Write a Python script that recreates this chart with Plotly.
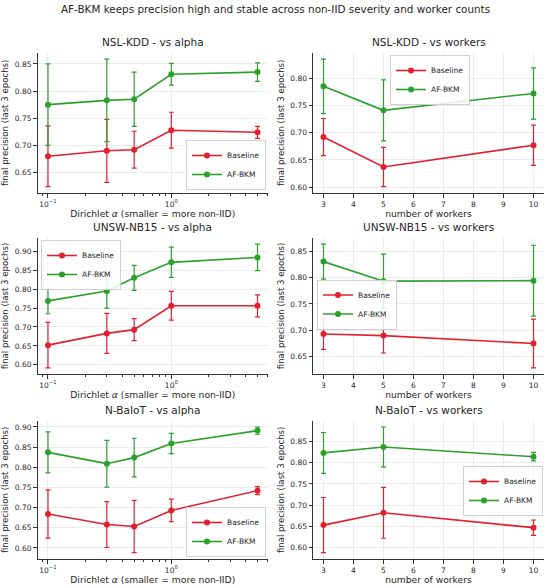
import plotly.graph_objects as go
from plotly.subplots import make_subplots

# Data
ALPHAS = [0.1, 0.3, 0.5, 1.0, 5.0]
WORKERS = [3, 5, 10]

nsl_alpha_base = [0.680, 0.690, 0.692, 0.728, 0.724]
nsl_alpha_base_err = [0.056, 0.058, 0.034, 0.033, 0.011]
nsl_alpha_af = [0.775, 0.783, 0.785, 0.831, 0.835]
nsl_alpha_af_err = [0.075, 0.076, 0.050, 0.020, 0.017]

nsl_work_base = [0.692, 0.637, 0.677]
nsl_work_base_err = [0.034, 0.036, 0.037]
nsl_work_af = [0.785, 0.741, 0.772]
nsl_work_af_err = [0.050, 0.056, 0.047]

unsw_alpha_base = [0.652, 0.683, 0.693, 0.756, 0.756]
unsw_alpha_base_err = [0.060, 0.053, 0.029, 0.038, 0.029]
unsw_alpha_af = [0.769, 0.795, 0.830, 0.871, 0.884]
unsw_alpha_af_err = [0.034, 0.045, 0.033, 0.040, 0.035]

unsw_work_base = [0.693, 0.690, 0.675]
unsw_work_base_err = [0.029, 0.033, 0.046]
unsw_work_af = [0.830, 0.793, 0.794]
unsw_work_af_err = [0.033, 0.051, 0.067]

nb_alpha_base = [0.684, 0.658, 0.653, 0.693, 0.742]
nb_alpha_base_err = [0.060, 0.057, 0.065, 0.028, 0.010]
nb_alpha_af = [0.837, 0.809, 0.824, 0.859, 0.891]
nb_alpha_af_err = [0.051, 0.058, 0.048, 0.025, 0.009]

nb_work_base = [0.653, 0.682, 0.647]
nb_work_base_err = [0.065, 0.060, 0.018]
nb_work_af = [0.823, 0.837, 0.814]
nb_work_af_err = [0.048, 0.047, 0.010]

TITLES = ["NSL-KDD - vs alpha", "NSL-KDD - vs workers",
          "UNSW-NB15 - vs alpha", "UNSW-NB15 - vs workers",
          "N-BaIoT - vs alpha", "N-BaIoT - vs workers"]
SUPTITLE = "AF-BKM keeps precision high and stable across non-IID severity and worker counts"
ALPHA_LABEL = "Dirichlet <i>α</i> (smaller = more non-IID)"
WORKER_LABEL = "number of workers"
Y_LABEL = "final precision (last 3 epochs)"

RED = "#e0202f"
GREEN = "#2ca02c"
TXT = "#262626"
FONT = "DejaVu Sans"
W, H = 550, 588

panels = [
    (ALPHAS, nsl_alpha_base, nsl_alpha_base_err, nsl_alpha_af, nsl_alpha_af_err),
    (WORKERS, nsl_work_base, nsl_work_base_err, nsl_work_af, nsl_work_af_err),
    (ALPHAS, unsw_alpha_base, unsw_alpha_base_err, unsw_alpha_af, unsw_alpha_af_err),
    (WORKERS, unsw_work_base, unsw_work_base_err, unsw_work_af, unsw_work_af_err),
    (ALPHAS, nb_alpha_base, nb_alpha_base_err, nb_alpha_af, nb_alpha_af_err),
    (WORKERS, nb_work_base, nb_work_base_err, nb_work_af, nb_work_af_err),
]

# axes boxes in pixels (left, right, top, bottom)
col_px = [(37.5, 268.0), (313.0, 544.0)]
row_px = [(52.7, 193.0), (238.0, 374.0), (420.7, 559.0)]

# legend placement per panel (x, y, xanchor, yanchor) in paper coords
legend_pos = [
    (266 / W, 1 - 190 / H, "right", "bottom"),
    (430 / W, 1 - 55 / H, "center", "top"),
    (41 / W, 1 - 240 / H, "left", "top"),
    (317 / W, 1 - 304.5 / H, "left", "middle"),
    (266 / W, 1 - 557 / H, "right", "bottom"),
    (543 / W, 1 - 491 / H, "right", "middle"),
]

fig = make_subplots(rows=3, cols=2)

axis_common = dict(
    showline=True, linecolor="#333333", linewidth=1,
    ticks="outside", ticklen=3.5, tickcolor="#333333", tickwidth=0.8,
    showgrid=True, gridcolor="#ebebeb", gridwidth=0.8,
    zeroline=False, mirror=False,
    tickfont=dict(family=FONT, size=7.5, color=TXT),
)

for i, (xs, yb, eb, ya, ea) in enumerate(panels):
    r, c = i // 2 + 1, i % 2 + 1
    leg = "legend" if i == 0 else f"legend{i + 1}"
    for name, ys, es, col in [("Baseline", yb, eb, RED), ("AF-BKM", ya, ea, GREEN)]:
        fig.add_trace(go.Scatter(
            x=xs, y=ys, name=name, mode="lines+markers",
            line=dict(color=col, width=1.6),
            marker=dict(color=col, size=6),
            error_y=dict(type="data", array=es, color=col, thickness=1.2, width=2.5),
            legend=leg,
        ), row=r, col=c)

    lo = min(y - e for y, e in zip(yb + ya, eb + ea))
    hi = max(y + e for y, e in zip(yb + ya, eb + ea))
    pad = 0.05 * (hi - lo)

    x0, x1 = col_px[c - 1]
    t0, b0 = row_px[r - 1]
    xdom = [x0 / W, x1 / W]
    ydom = [1 - b0 / H, 1 - t0 / H]

    xtitle_font = dict(family=FONT, size=9.2, color=TXT)
    if xs is ALPHAS:
        xkw = dict(type="log", range=[-1.085, 0.784],
                   tickvals=[0.1, 1], ticktext=["10<sup>−1</sup>", "10<sup>0</sup>"],
                   minor=dict(ticks="outside", ticklen=2, tickcolor="#333333",
                              tickvals=[0.09, 0.2, 0.3, 0.4, 0.5, 0.6, 0.7, 0.8, 0.9,
                                        2, 3, 4, 5, 6],
                              showgrid=False),
                   title=dict(text=ALPHA_LABEL, font=xtitle_font, standoff=2))
    else:
        xkw = dict(range=[2.65, 10.35], dtick=1, tick0=3,
                   title=dict(text=WORKER_LABEL, font=xtitle_font, standoff=2))
    fig.update_xaxes(domain=xdom, **axis_common, **xkw, row=r, col=c)
    fig.update_yaxes(domain=ydom, range=[lo - pad, hi + pad], dtick=0.05, tickformat=".2f",
                     title=dict(text=Y_LABEL, font=dict(family=FONT, size=8.6, color=TXT),
                                standoff=4),
                     **axis_common, row=r, col=c)

    fig.add_annotation(text=TITLES[i], xref="paper", yref="paper",
                       x=(x0 + x1) / 2 / W, y=1 - (t0 - 3) / H,
                       xanchor="center", yanchor="bottom", showarrow=False,
                       font=dict(family=FONT, size=10.5, color=TXT))

    lx, ly, xa, ya_ = legend_pos[i]
    fig.update_layout({leg: dict(x=lx, y=ly, xanchor=xa, yanchor=ya_,
                                 bgcolor="rgba(255,255,255,0.85)", bordercolor="#d0d0d0",
                                 borderwidth=1, font=dict(family=FONT, size=7.5, color=TXT),
                                 tracegroupgap=0, itemwidth=30)})

fig.add_annotation(text=SUPTITLE, xref="paper", yref="paper", x=0.5, y=1 - 9 / H,
                   xanchor="center", yanchor="middle", showarrow=False,
                   font=dict(family=FONT, size=10.4, color=TXT))

fig.update_layout(
    width=W, height=H,
    margin=dict(l=0, r=0, t=0, b=0),
    paper_bgcolor="white", plot_bgcolor="white",
    showlegend=True,
    font=dict(family=FONT),
)

# page body has a default 8px margin; remove it so the figure sits at the window origin
fig.write_html("out.html", config={"displayModeBar": False},
               post_script="document.body.style.margin='0';")
